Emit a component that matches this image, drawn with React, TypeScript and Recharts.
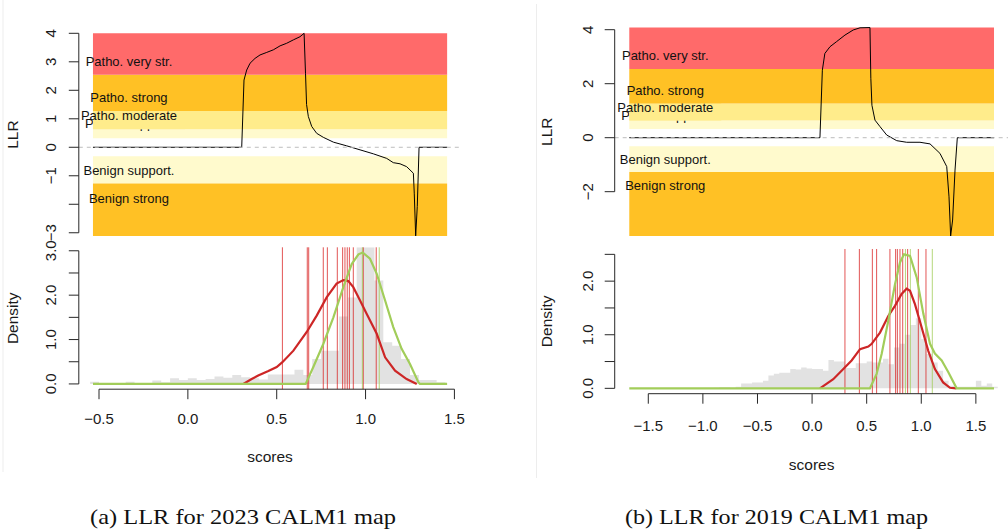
import React from 'react';
import { ComposedChart, Line, Area, XAxis, YAxis, ReferenceArea, ReferenceLine } from 'recharts';

type Pt = [number, number];

// ---- evidence levels (log10 odds of pathogenicity) ----
const LEVELS = ['Patho. support.', 'Patho. moderate', 'Patho. strong', 'Patho. very str.', 'Benign support.', 'Benign strong'];
// null = the level runs to the end of the curve's range
const LEVEL_LOW: (number | null)[] = [0.318, 0.637, 1.27, 2.544, -1.27, null];
const LEVEL_HIGH: (number | null)[] = [0.637, 1.27, 2.544, null, -0.318, -1.27];

const BIN_WIDTH = 0.05;

// ---- 2023 map ----
const llr2023: Pt[] = [
  [-0.534, 0], [0.303, 0], [0.316, 2.36], [0.331, 2.71], [0.35, 2.95], [0.378, 3.12], [0.406, 3.24],
  [0.444, 3.33], [0.481, 3.42], [0.519, 3.56], [0.556, 3.65], [0.594, 3.77], [0.631, 3.88], [0.654, 4.0],
  [0.662, 2.6], [0.668, 1.5], [0.678, 1.08], [0.697, 0.73], [0.725, 0.49], [0.762, 0.35], [0.819, 0.18],
  [0.894, 0.05], [0.969, -0.09], [1.044, -0.23], [1.119, -0.39], [1.156, -0.54], [1.194, -0.58],
  [1.231, -0.68], [1.269, -0.91], [1.274, -1.61], [1.282, -3.11], [1.291, -2.08], [1.301, 0], [1.459, 0],
];
const histStart2023 = -0.55;
const hist2023 = [
  0.05, 0, 0, 0.02, 0.05, 0.02, 0.02, 0.08, 0.04, 0.13, 0.09, 0.13, 0.09, 0.11, 0.17, 0.14, 0.2, 0.15, 0.13, 0.1,
  0.21, 0.21, 0.21, 0.32, 0.2, 0.56, 0.75, 0.75, 1.52, 1.95, 3.08, 3.08, 2.33, 0.94, 0.86, 0.56, 0.2, 0.09, 0.09, 0.04,
];
const pathDensity2023: Pt[] = [
  [0.312, 0], [0.359, 0.11], [0.396, 0.19], [0.453, 0.29], [0.5, 0.38], [0.532, 0.49], [0.594, 0.75],
  [0.669, 1.17], [0.725, 1.54], [0.781, 1.95], [0.837, 2.26], [0.875, 2.34], [0.903, 2.32], [0.931, 2.18],
  [0.969, 1.88], [1.006, 1.58], [1.063, 1.13], [1.11, 0.6], [1.166, 0.3], [1.231, 0.11], [1.288, 0],
];
const benignDensity2023: Pt[] = [
  [-0.534, 0], [0.663, 0], [0.706, 0.38], [0.762, 0.9], [0.819, 1.5], [0.875, 2.18], [0.922, 2.7],
  [0.96, 2.92], [0.984, 2.96], [1.025, 2.82], [1.063, 2.48], [1.11, 1.88], [1.156, 1.28], [1.203, 0.79],
  [1.25, 0.45], [1.297, 0.04], [1.306, 0], [1.459, 0],
];
const pathVariants2023 = [0.532, 0.672, 0.68, 0.762, 0.785, 0.841, 0.871, 0.884, 0.897, 0.909, 0.931, 0.987, 1.06];
const benignVariants2023 = [0.982, 1.077];
const llrTicks2023 = [4, 3, 2, 1, 0, -1, -2, -3];
const llrLabels2023 = [4, 3, 2, 1, 0, -1, -3];
const densTicks2023 = [0, 0.5, 1, 1.5, 2, 2.5, 3];
const densLabels2023 = [0, 1, 2, 3];
const scoreTicks2023 = [-0.5, 0, 0.5, 1, 1.5];

// ---- 2019 map ----
const llr2019: Pt[] = [
  [-1.674, 0], [0.072, 0], [0.094, 2.5], [0.117, 3.12], [0.164, 3.37], [0.225, 3.56], [0.301, 3.8],
  [0.377, 3.99], [0.439, 4.07], [0.53, 4.08], [0.538, 2.2], [0.548, 1.2], [0.576, 0.65], [0.622, 0.41],
  [0.683, 0.1], [0.775, -0.11], [0.866, -0.17], [0.988, -0.17], [1.08, -0.23], [1.171, -0.58],
  [1.233, -1.07], [1.254, -2.19], [1.269, -3.64], [1.287, -3.05], [1.309, -1.2], [1.33, 0], [1.666, 0],
];
const histStart2019 = -0.9;
const hist2019 = [
  0.01, 0.02, 0.02, 0.01, 0.03, 0.09, 0.09, 0.11, 0.11, 0.14, 0.24, 0.27, 0.29, 0.29, 0.36, 0.35, 0.39, 0.37,
  0.36, 0.36, 0.33, 0.53, 0.5, 0.5, 0.38, 0.38, 0.47, 0.47, 0.5, 0.48, 0.48, 0.55, 0.45, 0.76, 0.83, 1.0,
  1.18, 1.31, 0.92, 0.64, 0.48, 0.33, 0.14, 0.05, 0.03, 0.03, 0.03, 0.03, 0.14, 0.05, 0.09, 0.03,
];
const pathDensity2019: Pt[] = [
  [0.072, 0], [0.194, 0.17], [0.286, 0.36], [0.362, 0.52], [0.439, 0.73], [0.515, 0.78], [0.546, 0.83],
  [0.622, 1.04], [0.698, 1.35], [0.759, 1.54], [0.82, 1.76], [0.866, 1.86], [0.897, 1.82], [0.942, 1.57],
  [1.003, 1.14], [1.064, 0.7], [1.125, 0.36], [1.2, 0.11], [1.263, 0.01], [1.32, 0],
];
const benignDensity2019: Pt[] = [
  [-1.674, 0], [0.53, 0], [0.591, 0.27], [0.637, 0.64], [0.698, 1.26], [0.759, 1.94], [0.805, 2.35],
  [0.842, 2.5], [0.897, 2.47], [0.958, 2.07], [1.019, 1.39], [1.08, 0.83], [1.125, 0.65], [1.187, 0.52],
  [1.248, 0.3], [1.324, 0], [1.666, 0],
];
const pathVariants2019 = [0.301, 0.433, 0.552, 0.591, 0.713, 0.765, 0.781, 0.805, 0.83, 0.875, 0.973, 1.043];
const benignVariants2019 = [0.855, 0.9, 1.101];
const llrTicks2019 = [4, 2, 0, -2];
const llrLabels2019 = [4, 2, 0, -2];
const densTicks2019 = [0, 0.5, 1, 1.5, 2, 2.5];
const densLabels2019 = [0, 1, 2];
const scoreTicks2019 = [-1.5, -1, -0.5, 0, 0.5, 1, 1.5];

// ---- styling ----
const SANS = '"Liberation Sans", Arial, Helvetica, sans-serif';
const INK = '#262626';
const LEVEL_FILL = ['#FFFACD', '#FFEC8B', '#FFC125', '#FF6A6A', '#FFFACD', '#FFC125'];
// baseline of each level's text, in LLR units
const LEVEL_LABEL_AT = [0.66, 0.965, 1.59, 2.86, -0.98, -1.94];
const PATH_COL = '#CD2626';
const BENIGN_COL = '#A2CD5A';

const rows = (pts: Pt[]) => pts.map(([x, y]) => ({ x, y }));
// left bin edges plus a closing edge, drawn as a step area
const histRows = (start: number, heights: number[]) => {
  const out = heights.map((h, i) => ({ x: start + i * BIN_WIDTH, y: h }));
  out.push({ x: start + heights.length * BIN_WIDTH, y: heights[heights.length - 1] });
  return out;
};
const padded = (lo: number, hi: number): [number, number] => {
  const p = 0.04 * (hi - lo);
  return [lo - p, hi + p];
};
const minus = (s: string) => s.replace('-', '\u2212');
const fmtInt = (v: number) => minus(String(v));
const fmtOne = (v: number) => minus(v.toFixed(1));

const yTick = (shown: number[], fmt: (v: number) => string, shift: number) => (props: any) => {
  const { x, y, payload } = props;
  if (!shown.includes(payload.value)) return <g />;
  const cx = x - shift;
  return (
    <text x={cx} y={y} transform={`rotate(-90 ${cx} ${y})`} textAnchor="middle" dy="0.35em" fontSize={15} fill="#1a1a1a">
      {fmt(payload.value)}
    </text>
  );
};

const yTitle = (text: string, shift: number) => (props: any) => {
  const vb = props.viewBox;
  if (!vb) return null;
  const bx = vb.x + vb.width - shift;
  const cy = vb.y + vb.height / 2;
  return (
    <text x={bx} y={cy} transform={`rotate(-90 ${bx} ${cy})`} textAnchor="middle" fontSize={15.5} fill="#1a1a1a">
      {text}
    </text>
  );
};

interface Plot { left: number; top: number; width: number; height: number }

interface LlrProps {
  curve: Pt[];
  ticks: number[];
  labels: number[];
  chartLeft: number;
  plot: Plot;
  tickShift: number;
  titleShift: number;
  rightPad: number;
}

const LlrPanel: React.FC<LlrProps> = ({ curve, ticks, labels, chartLeft, plot, tickShift, titleShift, rightPad }) => {
  const xs = curve.map(p => p[0]);
  const ys = curve.map(p => p[1]);
  const xMin = Math.min(...xs), xMax = Math.max(...xs);
  const yMin = Math.min(...ys), yMax = Math.max(...ys);
  const xDomain = padded(xMin, xMax);
  const yDomain = padded(yMin, yMax);
  const axisW = plot.left - chartLeft;
  const height = plot.top + plot.height + 6;

  const bandLabel = (i: number, lo: number, hi: number) => (props: any) => {
    const vb = props.viewBox;
    if (!vb) return null;
    const toPx = (v: number) => vb.y + ((hi - v) / (hi - lo)) * vb.height;
    const cx = vb.x + 36;
    // the supporting label sits underneath the moderate band, only its edges peek out
    const cover = i === 0 ? (
      <rect x={vb.x} y={toPx(LEVEL_HIGH[1] as number)} width={92}
        height={toPx(LEVEL_LOW[1] as number) - toPx(LEVEL_HIGH[1] as number)} fill={LEVEL_FILL[1]} />
    ) : null;
    return (
      <g>
        <text x={cx} y={toPx(LEVEL_LABEL_AT[i])} textAnchor="middle" fontSize={13} fill="#111">{LEVELS[i]}</text>
        {cover}
      </g>
    );
  };

  return (
    <div style={{ position: 'absolute', left: chartLeft, top: 0 }}>
      <ComposedChart width={axisW + plot.width + rightPad} height={height}
        margin={{ top: plot.top, right: rightPad, bottom: 6, left: 0 }}>
        <XAxis type="number" dataKey="x" domain={xDomain} allowDataOverflow hide />
        <YAxis type="number" domain={yDomain} allowDataOverflow ticks={ticks} interval={0} width={axisW}
          tickSize={10} tickMargin={0} axisLine={false} tickLine={{ stroke: INK }} stroke={INK}
          tick={yTick(labels, fmtInt, tickShift)} label={{ content: yTitle('LLR', titleShift) }} />
        {LEVELS.map((name, i) => {
          const lo = LEVEL_LOW[i] ?? yMin;
          const hi = LEVEL_HIGH[i] ?? yMax;
          return (
            <ReferenceArea key={name} x1={xMin} x2={xMax} y1={lo} y2={hi} fill={LEVEL_FILL[i]} fillOpacity={1}
              stroke="none" ifOverflow="visible" label={{ content: bandLabel(i, lo, hi) }} />
          );
        })}
        <Line data={rows(curve)} dataKey="y" type="linear" stroke="#000" strokeWidth={1} dot={false}
          activeDot={false} isAnimationActive={false} />
        <ReferenceLine y={0} stroke="#BDBDBD" strokeDasharray="4 4" strokeWidth={1} />
        <ReferenceLine segment={[{ x: xDomain[0], y: ticks[0] }, { x: xDomain[0], y: ticks[ticks.length - 1] }]}
          stroke={INK} ifOverflow="visible" />
      </ComposedChart>
    </div>
  );
};

interface DensityProps {
  histStart: number;
  hist: number[];
  pathDensity: Pt[];
  benignDensity: Pt[];
  pathVariants: number[];
  benignVariants: number[];
  xRange: [number, number];
  yTicks: number[];
  yLabels: number[];
  xTicks: number[];
  chartLeft: number;
  chartTop: number;
  plot: Plot;
  tickShift: number;
  titleShift: number;
  xTickDrop: number;
  xTitleDrop: number;
  rightPad: number;
}

const DensityPanel: React.FC<DensityProps> = p => {
  const xDomain = padded(p.xRange[0], p.xRange[1]);
  const yTop = Math.max(...p.pathDensity.map(d => d[1]), ...p.benignDensity.map(d => d[1]));
  const yDomain = padded(0, yTop);
  const axisW = p.plot.left - p.chartLeft;
  const marginTop = p.plot.top - p.chartTop;
  const axisH = 90;

  const xTick = (props: any) => (
    <text x={props.x} y={props.y + p.xTickDrop} textAnchor="middle" fontSize={15} fill="#1a1a1a">
      {fmtOne(props.payload.value)}
    </text>
  );
  const xTitle = (props: any) => {
    const vb = props.viewBox;
    if (!vb) return null;
    return (
      <text x={vb.x + vb.width / 2} y={vb.y + p.xTitleDrop} textAnchor="middle" fontSize={15.5} fill="#1a1a1a">scores</text>
    );
  };

  return (
    <div style={{ position: 'absolute', left: p.chartLeft, top: p.chartTop }}>
      <ComposedChart width={axisW + p.plot.width + p.rightPad} height={marginTop + p.plot.height + axisH}
        margin={{ top: marginTop, right: p.rightPad, bottom: 0, left: 0 }}>
        <XAxis type="number" dataKey="x" domain={xDomain} allowDataOverflow ticks={p.xTicks} interval={0}
          height={axisH} tickSize={10} tickMargin={0} axisLine={false} tickLine={{ stroke: INK }} stroke={INK}
          tick={xTick} label={{ content: xTitle }} />
        <YAxis type="number" domain={yDomain} allowDataOverflow ticks={p.yTicks} interval={0} width={axisW}
          tickSize={10} tickMargin={0} axisLine={false} tickLine={{ stroke: INK }} stroke={INK}
          tick={yTick(p.yLabels, fmtOne, p.tickShift)} label={{ content: yTitle('Density', p.titleShift) }} />
        <Area data={histRows(p.histStart, p.hist)} dataKey="y" type="stepAfter" baseValue={0} fill="#E2E2E2"
          fillOpacity={1} stroke="none" dot={false} activeDot={false} isAnimationActive={false} />
        {p.pathVariants.map((v, i) => (
          <ReferenceLine key={`p${i}`} x={v} stroke="#D81B1B" strokeOpacity={0.75} strokeWidth={1} />
        ))}
        {p.benignVariants.map((v, i) => (
          <ReferenceLine key={`b${i}`} x={v} stroke={BENIGN_COL} strokeOpacity={0.8} strokeWidth={1} />
        ))}
        <Line data={rows(p.pathDensity)} dataKey="y" type="linear" stroke={PATH_COL} strokeWidth={2.2}
          dot={false} activeDot={false} isAnimationActive={false} />
        <Line data={rows(p.benignDensity)} dataKey="y" type="linear" stroke={BENIGN_COL} strokeWidth={2.2}
          dot={false} activeDot={false} isAnimationActive={false} />
        <ReferenceLine segment={[{ x: xDomain[0], y: p.yTicks[0] }, { x: xDomain[0], y: p.yTicks[p.yTicks.length - 1] }]}
          stroke={INK} ifOverflow="visible" />
        <ReferenceLine segment={[{ x: p.xTicks[0], y: yDomain[0] }, { x: p.xTicks[p.xTicks.length - 1], y: yDomain[0] }]}
          stroke={INK} ifOverflow="visible" />
      </ComposedChart>
    </div>
  );
};

const xRangeOf = (pts: Pt[]): [number, number] => [Math.min(...pts.map(d => d[0])), Math.max(...pts.map(d => d[0]))];

export default function App() {
  return (
    <div style={{
      position: 'absolute', left: 0, top: 0, width: 1008, height: 531, overflow: 'hidden',
      background: '#fff', fontFamily: SANS,
    }}>
      <LlrPanel curve={llr2023} ticks={llrTicks2023} labels={llrLabels2023} chartLeft={0}
        plot={{ left: 78.8, top: 25.2, width: 382.5, height: 218.8 }} tickShift={18} titleShift={61} rightPad={24} />
      <DensityPanel histStart={histStart2023} hist={hist2023} pathDensity={pathDensity2023}
        benignDensity={benignDensity2023} pathVariants={pathVariants2023} benignVariants={benignVariants2023}
        xRange={xRangeOf(llr2023)} yTicks={densTicks2023} yLabels={densLabels2023} xTicks={scoreTicks2023}
        chartLeft={0} chartTop={228} plot={{ left: 78.8, top: 247.3, width: 382.5, height: 141.9 }}
        tickShift={18} titleShift={61} xTickDrop={25} xTitleDrop={73} rightPad={24} />
      <LlrPanel curve={llr2019} ticks={llrTicks2019} labels={llrLabels2019} chartLeft={520}
        plot={{ left: 614.7, top: 19.2, width: 393.9, height: 225.1 }} tickShift={16.5} titleShift={63} rightPad={0} />
      <DensityPanel histStart={histStart2019} hist={hist2019} pathDensity={pathDensity2019}
        benignDensity={benignDensity2019} pathVariants={pathVariants2019} benignVariants={benignVariants2019}
        xRange={xRangeOf(llr2019)} yTicks={densTicks2019} yLabels={densLabels2019} xTicks={scoreTicks2019}
        chartLeft={520} chartTop={228} plot={{ left: 614.7, top: 249.0, width: 393.9, height: 144.7 }}
        tickShift={16.5} titleShift={63} xTickDrop={27.3} xTitleDrop={76} rightPad={0} />
      <svg width={1008} height={531} style={{ position: 'absolute', left: 0, top: 0, pointerEvents: 'none' }}>
        <line x1={3} y1={0} x2={3} y2={472} stroke="#EDEDED" />
        <line x1={536.5} y1={4} x2={536.5} y2={478} stroke="#EDEDED" />
        <text x={90} y={524} fontFamily='"Liberation Serif", "Times New Roman", serif' fontSize={21}
          textLength={306} lengthAdjust="spacingAndGlyphs" fill="#111">(a) LLR for 2023 CALM1 map</text>
        <text x={625} y={524} fontFamily='"Liberation Serif", "Times New Roman", serif' fontSize={21}
          textLength={303} lengthAdjust="spacingAndGlyphs" fill="#111">(b) LLR for 2019 CALM1 map</text>
      </svg>
    </div>
  );
}
